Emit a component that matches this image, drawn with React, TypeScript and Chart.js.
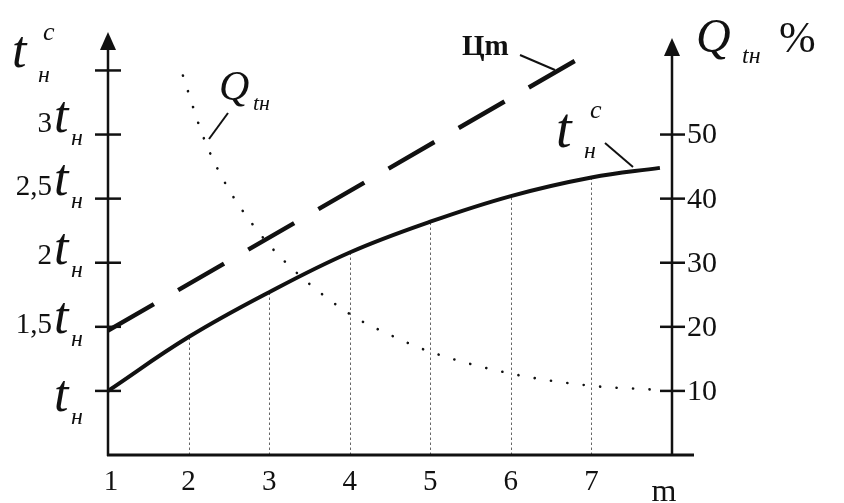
import React, { useEffect, useRef } from "react";
import { Chart, registerables } from "chart.js";

Chart.register(...registerables);

// ---- data ----
const tcX = [1, 2, 3, 4, 5, 6, 7, 7.85];
const tcY = [1.0, 1.42, 1.77, 2.08, 2.32, 2.52, 2.665, 2.74];

const cmX = [1, 6.92];
const cmY = [1.47, 3.62];

const qX = [1.93, 2.19, 2.46, 2.8, 3.21, 4.0, 4.56, 5, 6, 7, 7.77];
const qY = [59.2, 49.4, 42.3, 35.9, 30.0, 22.0, 18.4, 16.1, 12.7, 10.8, 10.2];

const xTicks = [1, 2, 3, 4, 5, 6, 7];
const gridX = [2, 3, 4, 5, 6, 7];
const leftTicks = [1, 1.5, 2, 2.5, 3, 3.5];
const leftTickLabels = ["", "1,5", "2", "2,5", "3", null];
const rightTicks = [10, 20, 30, 40, 50];

// label baseline offsets (style)
const leftLabelDy = [20, 6, 1, -4, -3, 0];

const SERIF = "'Liberation Serif', 'Times New Roman', serif";

function zip(xs: number[], ys: number[]) {
  return xs.map((x, i) => ({ x, y: ys[i] }));
}

const decor = {
  id: "decor",
  beforeDatasetsDraw(chart: any) {
    const ctx = chart.ctx;
    const xs = chart.scales.x;
    const ys = chart.scales.y;
    ctx.save();
    ctx.strokeStyle = "#666";
    ctx.lineWidth = 1;
    ctx.setLineDash([2.5, 2.5]);
    gridX.forEach((gx) => {
      const i = tcX.indexOf(gx);
      const px = Math.round(xs.getPixelForValue(gx)) + 0.5;
      ctx.beginPath();
      ctx.moveTo(px, ys.getPixelForValue(0.5));
      ctx.lineTo(px, ys.getPixelForValue(tcY[i]));
      ctx.stroke();
    });
    ctx.restore();
  },
  afterDraw(chart: any) {
    const ctx = chart.ctx;
    const xs = chart.scales.x;
    const ys = chart.scales.y;
    const y2 = chart.scales.y2;
    const left = xs.getPixelForValue(1);
    const right = xs.getPixelForValue(8);
    const bottom = ys.getPixelForValue(0.5);
    ctx.save();
    ctx.strokeStyle = "#111";
    ctx.fillStyle = "#111";
    ctx.setLineDash([]);
    ctx.lineCap = "butt";

    // bottom axis
    ctx.lineWidth = 3;
    ctx.beginPath();
    ctx.moveTo(left - 1, bottom);
    ctx.lineTo(right + 22, bottom);
    ctx.stroke();

    // left axis
    ctx.lineWidth = 2.5;
    ctx.beginPath();
    ctx.moveTo(left, bottom + 1);
    ctx.lineTo(left, 48);
    ctx.stroke();
    ctx.beginPath();
    ctx.moveTo(left, 32);
    ctx.lineTo(left - 8, 50);
    ctx.lineTo(left + 8, 50);
    ctx.closePath();
    ctx.fill();

    // right axis
    ctx.beginPath();
    ctx.moveTo(right, bottom + 1);
    ctx.lineTo(right, 54);
    ctx.stroke();
    ctx.beginPath();
    ctx.moveTo(right, 38);
    ctx.lineTo(right - 8, 56);
    ctx.lineTo(right + 8, 56);
    ctx.closePath();
    ctx.fill();

    // left ticks + labels
    leftTicks.forEach((v, i) => {
      const py = ys.getPixelForValue(v);
      ctx.lineWidth = 2.5;
      ctx.beginPath();
      ctx.moveTo(left - 13, py);
      ctx.lineTo(left + 13, py);
      ctx.stroke();
      const lab = leftTickLabels[i];
      if (lab === null) return;
      const base = py + leftLabelDy[i];
      ctx.textBaseline = "alphabetic";
      ctx.textAlign = "right";
      ctx.font = `29px ${SERIF}`;
      if (lab) ctx.fillText(lab, 52, base);
      ctx.textAlign = "left";
      ctx.font = `italic 52px ${SERIF}`;
      ctx.fillText("t", 54, base);
      ctx.font = `italic 24px ${SERIF}`;
      ctx.fillText("н", 71, base + 13);
    });

    // right ticks + labels
    rightTicks.forEach((v) => {
      const py = y2.getPixelForValue(v);
      ctx.lineWidth = 2.5;
      ctx.beginPath();
      ctx.moveTo(right - 12, py);
      ctx.lineTo(right + 13, py);
      ctx.stroke();
      ctx.font = `30px ${SERIF}`;
      ctx.textAlign = "left";
      ctx.textBaseline = "middle";
      ctx.fillText(String(v), right + 15, py + 1);
    });

    // x labels
    ctx.textBaseline = "alphabetic";
    ctx.textAlign = "center";
    ctx.font = `29px ${SERIF}`;
    xTicks.forEach((v) => {
      ctx.fillText(String(v), xs.getPixelForValue(v) + (v === 1 ? 3 : 0), 490);
    });
    ctx.font = `32px ${SERIF}`;
    ctx.fillText("m", 664, 501);

    // axis titles
    ctx.textAlign = "left";
    ctx.font = `italic 52px ${SERIF}`;
    ctx.fillText("t", 12, 67);
    ctx.font = `italic 26px ${SERIF}`;
    ctx.fillText("c", 43, 40);
    ctx.font = `italic 24px ${SERIF}`;
    ctx.fillText("н", 38, 82);

    ctx.font = `italic 48px ${SERIF}`;
    ctx.fillText("Q", 696, 52);
    ctx.font = `italic 24px ${SERIF}`;
    ctx.fillText("tн", 742, 63);
    ctx.font = `44px ${SERIF}`;
    ctx.fillText("%", 779, 52);

    // series labels
    ctx.font = `italic 42px ${SERIF}`;
    ctx.fillText("Q", 219, 100);
    ctx.font = `italic 22px ${SERIF}`;
    ctx.fillText("tн", 253, 110);

    ctx.font = `bold 29px ${SERIF}`;
    ctx.fillText("Цm", 462, 55);

    ctx.font = `italic 56px ${SERIF}`;
    ctx.fillText("t", 556, 147);
    ctx.font = `italic 26px ${SERIF}`;
    ctx.fillText("c", 590, 118);
    ctx.font = `italic 24px ${SERIF}`;
    ctx.fillText("н", 584, 158);

    // leader lines
    ctx.lineWidth = 2;
    [
      [228, 113, 209, 139],
      [520, 55, 555, 70],
      [605, 143, 633, 167],
    ].forEach(([a, b, c, d]) => {
      ctx.beginPath();
      ctx.moveTo(a, b);
      ctx.lineTo(c, d);
      ctx.stroke();
    });

    ctx.restore();
  },
};

export default function App() {
  const ref = useRef<HTMLCanvasElement>(null);
  useEffect(() => {
    if (!ref.current) return;
    const chart = new Chart(ref.current, {
      type: "line",
      data: {
        datasets: [
          {
            data: zip(tcX, tcY),
            yAxisID: "y",
            borderColor: "#111",
            borderWidth: 4,
            pointRadius: 0,
            tension: 0.4,
            borderCapStyle: "butt",
          },
          {
            data: zip(cmX, cmY),
            yAxisID: "y",
            borderColor: "#111",
            borderWidth: 4.5,
            pointRadius: 0,
            borderDash: [53, 28],
            borderCapStyle: "butt",
          },
          {
            data: zip(qX, qY),
            yAxisID: "y2",
            borderColor: "#111",
            borderWidth: 2.6,
            pointRadius: 0,
            borderDash: [0.1, 16.4],
            borderCapStyle: "round",
            cubicInterpolationMode: "monotone",
          },
        ],
      },
      options: {
        responsive: false,
        animation: false,
        events: [],
        layout: { padding: { left: 108, right: 172, top: 32, bottom: 48 } },
        plugins: { legend: { display: false }, tooltip: { enabled: false } },
        scales: {
          x: { type: "linear", min: 1, max: 8, display: false },
          y: { type: "linear", min: 0.5, max: 3.8, display: false },
          y2: { type: "linear", min: 0, max: 66, display: false, position: "right" },
        },
      },
      plugins: [decor],
    } as any);
    return () => chart.destroy();
  }, []);
  return (
    <div style={{ position: "fixed", left: 0, top: 0, width: 844, height: 503, background: "#fff" }}>
      <canvas ref={ref} width={844} height={503} style={{ display: "block" }} />
    </div>
  );
}
